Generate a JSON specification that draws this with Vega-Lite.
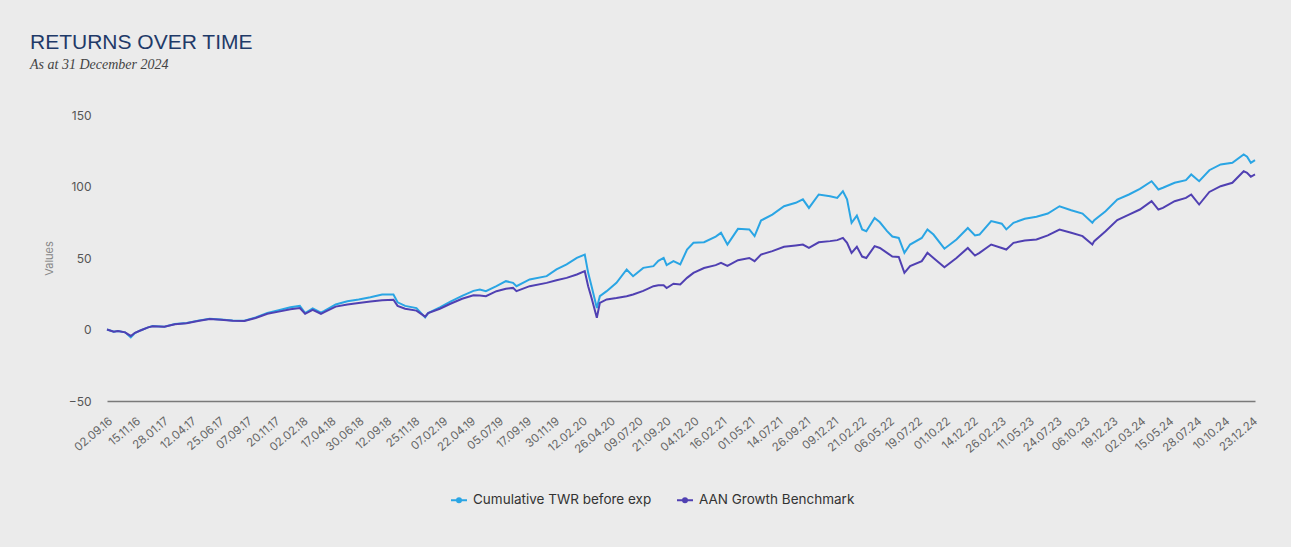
{
  "$schema": "https://vega.github.io/schema/vega-lite/v6.json",
  "width": 1148,
  "height": 286,
  "autosize": {"type": "none"},
  "padding": {"left": 107, "top": 115, "right": 36, "bottom": 146},
  "background": "#ebebeb",
  "config": {"view": {"stroke": null}},
  "title": {
    "text": "RETURNS OVER TIME",
    "subtitle": "As at 31 December 2024",
    "anchor": "start",
    "frame": "group",
    "dx": -77,
    "offset": 37,
    "font": "Liberation Sans",
    "fontSize": 21,
    "fontWeight": "normal",
    "color": "#1f3a68",
    "subtitleFont": "Liberation Serif",
    "subtitleFontStyle": "italic",
    "subtitleFontSize": 14,
    "subtitleColor": "#444444",
    "subtitlePadding": 5
  },
  "data": {
    "values": [
      {"d": "2016-09-02", "twr": 0, "aan": 0},
      {"d": "2016-09-20", "twr": -1.5, "aan": -1.5},
      {"d": "2016-10-01", "twr": -1, "aan": -1},
      {"d": "2016-10-20", "twr": -2, "aan": -2},
      {"d": "2016-11-04", "twr": -5.5, "aan": -4.5},
      {"d": "2016-11-15", "twr": -2.5, "aan": -2.3},
      {"d": "2016-12-01", "twr": -0.5, "aan": -0.5},
      {"d": "2016-12-20", "twr": 1.5, "aan": 1.5},
      {"d": "2017-01-01", "twr": 2.5, "aan": 2.3},
      {"d": "2017-02-01", "twr": 2, "aan": 2},
      {"d": "2017-03-01", "twr": 3.8, "aan": 3.6},
      {"d": "2017-04-01", "twr": 4.5, "aan": 4.3},
      {"d": "2017-05-01", "twr": 6.2, "aan": 6},
      {"d": "2017-06-01", "twr": 7.5, "aan": 7.3},
      {"d": "2017-07-01", "twr": 7, "aan": 6.9},
      {"d": "2017-08-01", "twr": 6.3, "aan": 6.2},
      {"d": "2017-09-01", "twr": 6.2, "aan": 6},
      {"d": "2017-10-01", "twr": 8.5, "aan": 8},
      {"d": "2017-11-01", "twr": 11.5, "aan": 11},
      {"d": "2017-12-01", "twr": 13.5, "aan": 12.5},
      {"d": "2018-01-01", "twr": 15.5, "aan": 14.2},
      {"d": "2018-01-26", "twr": 16.5, "aan": 15},
      {"d": "2018-02-09", "twr": 11.5, "aan": 11},
      {"d": "2018-03-01", "twr": 14.8, "aan": 13.8},
      {"d": "2018-03-23", "twr": 11.8, "aan": 11},
      {"d": "2018-04-01", "twr": 13, "aan": 12.2},
      {"d": "2018-05-01", "twr": 17.5, "aan": 16},
      {"d": "2018-06-01", "twr": 19.8, "aan": 17.5},
      {"d": "2018-07-01", "twr": 21, "aan": 18.5},
      {"d": "2018-08-01", "twr": 22.5, "aan": 19.5},
      {"d": "2018-09-01", "twr": 24.5, "aan": 20.5},
      {"d": "2018-10-01", "twr": 24.5, "aan": 20.8},
      {"d": "2018-10-12", "twr": 19, "aan": 16.5},
      {"d": "2018-11-01", "twr": 16.5, "aan": 14.5},
      {"d": "2018-12-01", "twr": 15, "aan": 13.2},
      {"d": "2018-12-24", "twr": 8.5, "aan": 9},
      {"d": "2019-01-01", "twr": 11.5, "aan": 11.5},
      {"d": "2019-02-01", "twr": 15.5, "aan": 14.5},
      {"d": "2019-03-01", "twr": 19.5, "aan": 18},
      {"d": "2019-04-01", "twr": 23.5, "aan": 21.5},
      {"d": "2019-05-01", "twr": 27, "aan": 24},
      {"d": "2019-05-18", "twr": 28, "aan": 23.8},
      {"d": "2019-06-03", "twr": 26.8, "aan": 23.3},
      {"d": "2019-07-01", "twr": 30.3, "aan": 26.8},
      {"d": "2019-07-26", "twr": 33.8, "aan": 28.5},
      {"d": "2019-08-14", "twr": 32.6, "aan": 29.1},
      {"d": "2019-08-23", "twr": 30.3, "aan": 26.8},
      {"d": "2019-09-27", "twr": 35, "aan": 30.3},
      {"d": "2019-11-11", "twr": 37.3, "aan": 32.6},
      {"d": "2019-12-07", "twr": 42, "aan": 34.5},
      {"d": "2020-01-03", "twr": 45.5, "aan": 36.1},
      {"d": "2020-01-30", "twr": 50.1, "aan": 38.5},
      {"d": "2020-02-20", "twr": 52.4, "aan": 40.8},
      {"d": "2020-02-29", "twr": 39.6, "aan": 30.3},
      {"d": "2020-03-09", "twr": 30.3, "aan": 22},
      {"d": "2020-03-23", "twr": 15, "aan": 8.2},
      {"d": "2020-03-31", "twr": 23.3, "aan": 18.6},
      {"d": "2020-04-18", "twr": 26.8, "aan": 21},
      {"d": "2020-05-14", "twr": 32.6, "aan": 22},
      {"d": "2020-06-10", "twr": 42, "aan": 23.3},
      {"d": "2020-06-27", "twr": 37.3, "aan": 24.5},
      {"d": "2020-07-24", "twr": 43.1, "aan": 27},
      {"d": "2020-08-20", "twr": 44.3, "aan": 30.3},
      {"d": "2020-09-02", "twr": 48, "aan": 31},
      {"d": "2020-09-16", "twr": 50.1, "aan": 31},
      {"d": "2020-09-24", "twr": 45, "aan": 29},
      {"d": "2020-10-12", "twr": 47.8, "aan": 32},
      {"d": "2020-10-30", "twr": 45.5, "aan": 31.5},
      {"d": "2020-11-17", "twr": 55.9, "aan": 36.1},
      {"d": "2020-12-04", "twr": 60.6, "aan": 39.6},
      {"d": "2021-01-01", "twr": 61, "aan": 43},
      {"d": "2021-02-01", "twr": 65, "aan": 45},
      {"d": "2021-02-15", "twr": 67.6, "aan": 46.6},
      {"d": "2021-03-04", "twr": 59.4, "aan": 44.5},
      {"d": "2021-04-01", "twr": 70.4, "aan": 48.5},
      {"d": "2021-05-01", "twr": 70, "aan": 50},
      {"d": "2021-05-15", "twr": 65.3, "aan": 47.8},
      {"d": "2021-06-01", "twr": 76.2, "aan": 52.4},
      {"d": "2021-07-01", "twr": 80.4, "aan": 54.8},
      {"d": "2021-08-01", "twr": 86.2, "aan": 57.8},
      {"d": "2021-09-01", "twr": 88.6, "aan": 58.8},
      {"d": "2021-09-20", "twr": 91, "aan": 59.4},
      {"d": "2021-10-06", "twr": 85, "aan": 57.1},
      {"d": "2021-11-01", "twr": 94.4, "aan": 61},
      {"d": "2021-12-01", "twr": 93.2, "aan": 61.8},
      {"d": "2021-12-20", "twr": 92, "aan": 62.5},
      {"d": "2022-01-04", "twr": 96.7, "aan": 64.1},
      {"d": "2022-01-15", "twr": 91, "aan": 60.6},
      {"d": "2022-01-27", "twr": 74.6, "aan": 53.6},
      {"d": "2022-02-10", "twr": 79.6, "aan": 57.8},
      {"d": "2022-02-24", "twr": 70, "aan": 51},
      {"d": "2022-03-07", "twr": 68.7, "aan": 50},
      {"d": "2022-03-29", "twr": 78, "aan": 58.3},
      {"d": "2022-04-12", "twr": 75, "aan": 57},
      {"d": "2022-05-01", "twr": 68.8, "aan": 53.6},
      {"d": "2022-05-15", "twr": 65, "aan": 51},
      {"d": "2022-06-01", "twr": 64, "aan": 50.7},
      {"d": "2022-06-16", "twr": 53.6, "aan": 39.6},
      {"d": "2022-07-01", "twr": 59.4, "aan": 44.3},
      {"d": "2022-08-01", "twr": 64, "aan": 47.8},
      {"d": "2022-08-16", "twr": 70, "aan": 53.6},
      {"d": "2022-09-01", "twr": 66.4, "aan": 50},
      {"d": "2022-09-30", "twr": 56.5, "aan": 43.5},
      {"d": "2022-11-01", "twr": 62.9, "aan": 50},
      {"d": "2022-12-01", "twr": 71, "aan": 57},
      {"d": "2022-12-20", "twr": 65.8, "aan": 51.7},
      {"d": "2023-01-01", "twr": 66.4, "aan": 53.6},
      {"d": "2023-02-01", "twr": 75.8, "aan": 59.4},
      {"d": "2023-03-01", "twr": 74, "aan": 57},
      {"d": "2023-03-13", "twr": 70, "aan": 55.9},
      {"d": "2023-04-01", "twr": 74.6, "aan": 60.6},
      {"d": "2023-05-01", "twr": 77.4, "aan": 62.2},
      {"d": "2023-06-01", "twr": 78.8, "aan": 62.9},
      {"d": "2023-07-01", "twr": 81.1, "aan": 65.8},
      {"d": "2023-08-01", "twr": 86.2, "aan": 69.9},
      {"d": "2023-09-01", "twr": 83.4, "aan": 67.6},
      {"d": "2023-10-01", "twr": 81.1, "aan": 65.3},
      {"d": "2023-10-27", "twr": 74.6, "aan": 59.4},
      {"d": "2023-11-01", "twr": 76.5, "aan": 61.8},
      {"d": "2023-12-01", "twr": 82.7, "aan": 68.7},
      {"d": "2024-01-01", "twr": 90.9, "aan": 76.5},
      {"d": "2024-02-01", "twr": 94.4, "aan": 80.4},
      {"d": "2024-03-01", "twr": 98.4, "aan": 83.9},
      {"d": "2024-04-01", "twr": 103.7, "aan": 89.7},
      {"d": "2024-04-19", "twr": 97.9, "aan": 83.9},
      {"d": "2024-05-01", "twr": 99.1, "aan": 85},
      {"d": "2024-06-01", "twr": 102.6, "aan": 89.7},
      {"d": "2024-07-01", "twr": 104.4, "aan": 92},
      {"d": "2024-07-15", "twr": 108.4, "aan": 94.4},
      {"d": "2024-08-05", "twr": 103.7, "aan": 87.4},
      {"d": "2024-09-01", "twr": 111.4, "aan": 96.2},
      {"d": "2024-10-01", "twr": 115.4, "aan": 100.2},
      {"d": "2024-11-01", "twr": 116.6, "aan": 102.6},
      {"d": "2024-12-01", "twr": 122.4, "aan": 110.7},
      {"d": "2024-12-10", "twr": 120.8, "aan": 109.6},
      {"d": "2024-12-20", "twr": 116.6, "aan": 106.8},
      {"d": "2024-12-31", "twr": 118.5, "aan": 108.4}
    ]
  },
  "transform": [{"fold": ["twr", "aan"], "as": ["series", "value"]}],
  "mark": {"type": "line", "strokeWidth": 2, "interpolate": "linear"},
  "encoding": {
    "x": {
      "field": "d",
      "type": "temporal",
      "scale": {
        "type": "utc",
        "domain": [
          {"year": 2016, "month": 9, "date": 2, "utc": true},
          {"year": 2024, "month": 12, "date": 31, "utc": true}
        ]
      },
      "axis": {
        "title": null,
        "values": [
          {"year": 2016, "month": 9, "date": 2, "utc": true},
          {"year": 2016, "month": 11, "date": 15, "utc": true},
          {"year": 2017, "month": 1, "date": 28, "utc": true},
          {"year": 2017, "month": 4, "date": 12, "utc": true},
          {"year": 2017, "month": 6, "date": 25, "utc": true},
          {"year": 2017, "month": 9, "date": 7, "utc": true},
          {"year": 2017, "month": 11, "date": 20, "utc": true},
          {"year": 2018, "month": 2, "date": 2, "utc": true},
          {"year": 2018, "month": 4, "date": 17, "utc": true},
          {"year": 2018, "month": 6, "date": 30, "utc": true},
          {"year": 2018, "month": 9, "date": 12, "utc": true},
          {"year": 2018, "month": 11, "date": 25, "utc": true},
          {"year": 2019, "month": 2, "date": 7, "utc": true},
          {"year": 2019, "month": 4, "date": 22, "utc": true},
          {"year": 2019, "month": 7, "date": 5, "utc": true},
          {"year": 2019, "month": 9, "date": 17, "utc": true},
          {"year": 2019, "month": 11, "date": 30, "utc": true},
          {"year": 2020, "month": 2, "date": 12, "utc": true},
          {"year": 2020, "month": 4, "date": 26, "utc": true},
          {"year": 2020, "month": 7, "date": 9, "utc": true},
          {"year": 2020, "month": 9, "date": 21, "utc": true},
          {"year": 2020, "month": 12, "date": 4, "utc": true},
          {"year": 2021, "month": 2, "date": 16, "utc": true},
          {"year": 2021, "month": 5, "date": 1, "utc": true},
          {"year": 2021, "month": 7, "date": 14, "utc": true},
          {"year": 2021, "month": 9, "date": 26, "utc": true},
          {"year": 2021, "month": 12, "date": 9, "utc": true},
          {"year": 2022, "month": 2, "date": 21, "utc": true},
          {"year": 2022, "month": 5, "date": 6, "utc": true},
          {"year": 2022, "month": 7, "date": 19, "utc": true},
          {"year": 2022, "month": 10, "date": 1, "utc": true},
          {"year": 2022, "month": 12, "date": 14, "utc": true},
          {"year": 2023, "month": 2, "date": 26, "utc": true},
          {"year": 2023, "month": 5, "date": 11, "utc": true},
          {"year": 2023, "month": 7, "date": 24, "utc": true},
          {"year": 2023, "month": 10, "date": 6, "utc": true},
          {"year": 2023, "month": 12, "date": 19, "utc": true},
          {"year": 2024, "month": 3, "date": 2, "utc": true},
          {"year": 2024, "month": 5, "date": 15, "utc": true},
          {"year": 2024, "month": 7, "date": 28, "utc": true},
          {"year": 2024, "month": 10, "date": 10, "utc": true},
          {"year": 2024, "month": 12, "date": 23, "utc": true}
        ],
        "labelExpr": "utcFormat(datum.value, '%d.%m.%y')",
        "labelAngle": -40,
        "labelFont": "Inter",
        "labelFontSize": 11.5,
        "labelColor": "#666666",
        "labelPadding": 14,
        "labelOverlap": false,
        "labelFlush": false,
        "labelBound": false,
        "domainColor": "#7a7a7a",
        "domainWidth": 1.5,
        "ticks": false,
        "grid": false
      }
    },
    "y": {
      "field": "value",
      "type": "quantitative",
      "scale": {"domain": [-50, 150], "nice": false, "zero": false},
      "axis": {
        "values": [-50, 0, 50, 100, 150],
        "title": "Values",
        "grid": false,
        "domain": false,
        "ticks": false,
        "tickSize": 0,
        "labelPadding": 16,
        "labelFont": "Inter",
        "labelFontSize": 12,
        "labelColor": "#555555",
        "titleFont": "Inter",
        "titleFontSize": 11,
        "titleFontWeight": "normal",
        "titleColor": "#888888",
        "titlePadding": 14
      }
    },
    "color": {
      "field": "series",
      "type": "nominal",
      "sort": ["twr", "aan"],
      "scale": {"domain": ["twr", "aan"], "range": ["#2aa5e4", "#5040b2"]},
      "legend": {
        "title": null,
        "orient": "none",
        "legendX": 343,
        "legendY": 376,
        "direction": "horizontal",
        "labelExpr": "datum.label == 'twr' ? 'Cumulative TWR before exp' : 'AAN Growth Benchmark'",
        "symbolType": "M-1,0H1M0.25,0A0.25,0.25,0,1,1,-0.25,0A0.25,0.25,0,1,1,0.25,0",
        "symbolSize": 256,
        "symbolStrokeWidth": 2,
        "labelFont": "Inter",
        "labelFontSize": 13.5,
        "labelLimit": 400,
        "labelColor": "#333333",
        "labelOffset": 5,
        "columnPadding": 21
      }
    }
  }
}
